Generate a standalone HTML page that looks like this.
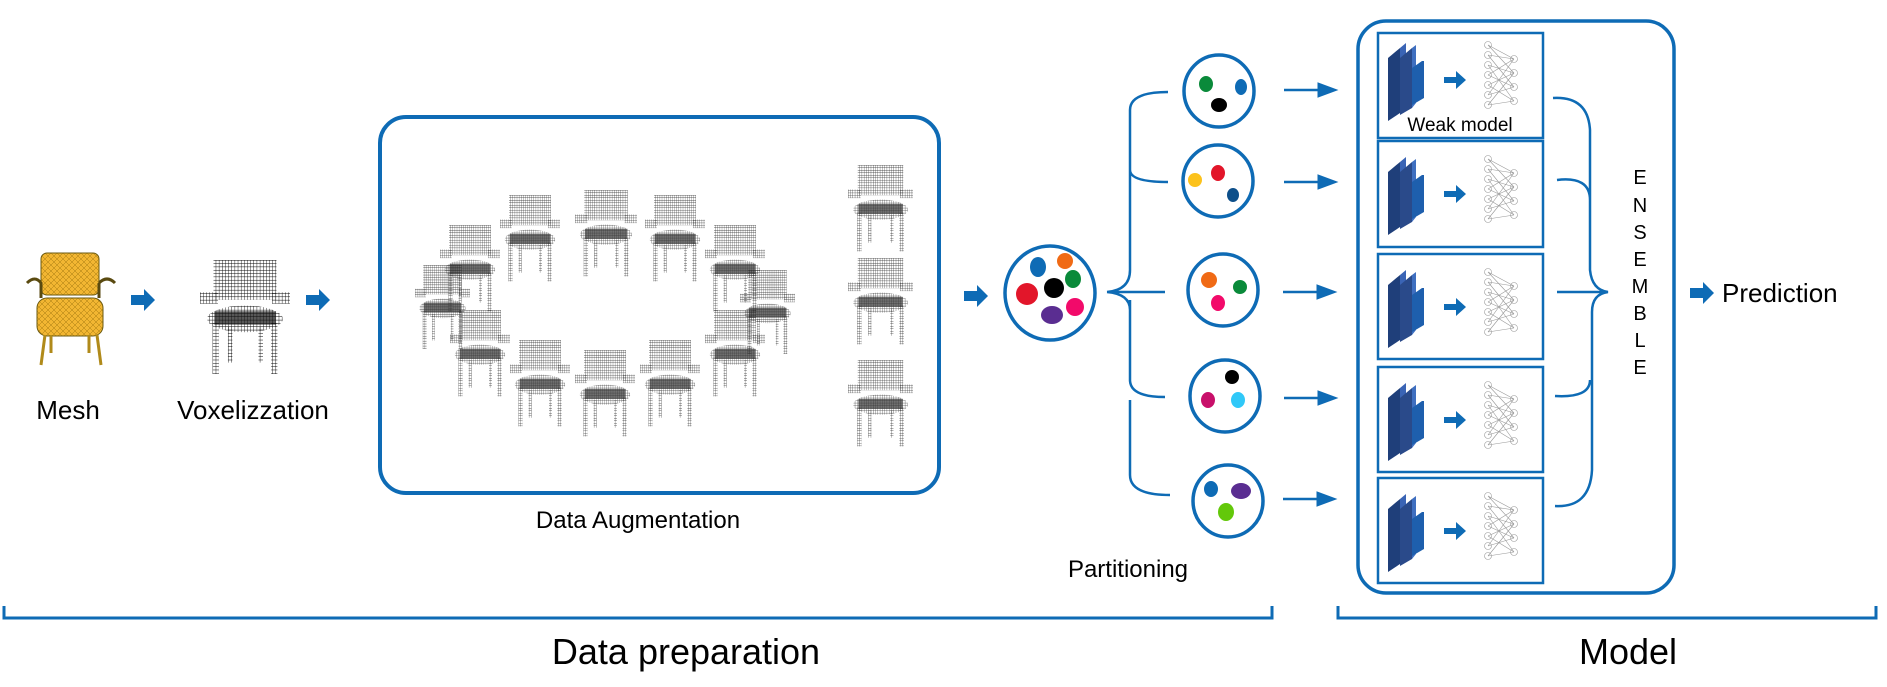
<!DOCTYPE html>
<html><head><meta charset="utf-8"><style>
html,body{margin:0;padding:0;background:#fff;}
svg{display:block;}
text{font-family:"Comic Sans MS","Liberation Sans",sans-serif;fill:#000;}
</style></head><body>
<svg width="1887" height="687" viewBox="0 0 1887 687" xmlns="http://www.w3.org/2000/svg">
<defs>
<pattern id="grid" width="3.5" height="3.5" patternUnits="userSpaceOnUse">
<path d="M0 0H3.5M0 0V3.5" stroke="#000" stroke-width="0.9" fill="none"/>
</pattern>
<pattern id="mesh" width="6" height="6" patternUnits="userSpaceOnUse">
<rect width="6" height="6" fill="#f2b632"/>
<path d="M0 0L6 6M0 6L6 0" stroke="#a77a10" stroke-width="0.5"/>
</pattern>
<g id="chair">
<rect x="15" y="0" width="70" height="42" fill="url(#grid)"/>
<rect x="0" y="34" width="20" height="12" fill="url(#grid)"/>
<rect x="80" y="34" width="20" height="12" fill="url(#grid)"/>
<ellipse cx="50" cy="62" rx="42" ry="14" fill="url(#grid)"/>
<rect x="16" y="54" width="68" height="14" fill="#111" opacity="0.7"/>
<rect x="14" y="66" width="7" height="54" fill="url(#grid)"/>
<rect x="79" y="66" width="7" height="54" fill="url(#grid)"/>
<rect x="31" y="70" width="5" height="38" fill="url(#grid)"/>
<rect x="65" y="70" width="5" height="38" fill="url(#grid)"/>
</g>
<g id="arrowS"><path d="M0 -5H13V-11L24 0L13 11V5H0Z" fill="#0e6bb5"/></g>
<g id="weak">
<polygon points="10,25 22,15 22,80 10,88" fill="#1f3f7a"/>
<polygon points="22,15 28,10 28,76 22,80" fill="#3a64b5"/>
<polygon points="22,25 34,15 34,75 22,82" fill="#2a4a8a"/>
<polygon points="34,15 38,12 38,70 34,75" fill="#3f6fc0"/>
<polygon points="34,35 44,28 46,28 46,65 34,72" fill="#1e5fad"/>
<path d="M66 44H78V38L88 47L78 56V50H66Z" fill="#0e6bb5"/>
<g stroke="#999" stroke-width="0.6" fill="none">
<path d="M110 12L136 26M110 12L136 40M110 22L136 26M110 22L136 54M110 32L136 40M110 32L136 68M110 42L136 26M110 42L136 54M110 52L136 40M110 52L136 68M110 62L136 54M110 62L136 26M110 72L136 68M110 72L136 40"/>
<circle cx="110" cy="12" r="3.5"/><circle cx="110" cy="22" r="3.5"/><circle cx="110" cy="32" r="3.5"/><circle cx="110" cy="42" r="3.5"/><circle cx="110" cy="52" r="3.5"/><circle cx="110" cy="62" r="3.5"/><circle cx="110" cy="72" r="3.5"/>
<circle cx="136" cy="26" r="3.5"/><circle cx="136" cy="40" r="3.5"/><circle cx="136" cy="54" r="3.5"/><circle cx="136" cy="68" r="3.5"/>
</g>
</g>
</defs>

<!-- Mesh chair -->
<g transform="translate(27,253)">
<rect x="14" y="0" width="58" height="42" rx="6" fill="url(#mesh)" stroke="#6b5a10" stroke-width="1"/>
<path d="M0 30Q8 22 14 30L14 45M72 30Q80 22 88 30M72 30V45" stroke="#5a4a10" stroke-width="3" fill="none"/>
<rect x="10" y="45" width="66" height="38" rx="10" fill="url(#mesh)" stroke="#6b5a10"/>
<path d="M18 82L14 112M70 82L74 112M24 82L24 100M62 82L62 100" stroke="#b08a1a" stroke-width="3"/>
</g>
<use href="#arrowS" x="131" y="300"/>
<g transform="translate(200,260) scale(0.9,0.95)"><use href="#chair"/></g>
<use href="#arrowS" x="306" y="300"/>
<text x="68" y="419" font-size="26" text-anchor="middle">Mesh</text>
<text x="253" y="419" font-size="26" text-anchor="middle">Voxelizzation</text>

<!-- Data augmentation box -->
<rect x="380" y="117" width="559" height="376" rx="26" fill="none" stroke="#0e6bb5" stroke-width="4"/>
<g opacity="0.85">
<g transform="translate(575,190) scale(0.62,0.72)"><use href="#chair"/></g>
<g transform="translate(500,195) scale(0.6,0.72)"><use href="#chair"/></g>
<g transform="translate(645,195) scale(0.6,0.72)"><use href="#chair"/></g>
<g transform="translate(440,225) scale(0.6,0.72)"><use href="#chair"/></g>
<g transform="translate(705,225) scale(0.6,0.72)"><use href="#chair"/></g>
<g transform="translate(415,265) scale(0.55,0.7)"><use href="#chair"/></g>
<g transform="translate(740,270) scale(0.55,0.7)"><use href="#chair"/></g>
<g transform="translate(450,310) scale(0.6,0.72)"><use href="#chair"/></g>
<g transform="translate(705,310) scale(0.6,0.72)"><use href="#chair"/></g>
<g transform="translate(510,340) scale(0.6,0.72)"><use href="#chair"/></g>
<g transform="translate(575,350) scale(0.6,0.72)"><use href="#chair"/></g>
<g transform="translate(640,340) scale(0.6,0.72)"><use href="#chair"/></g>
<g transform="translate(848,165) scale(0.65,0.72)"><use href="#chair"/></g>
<g transform="translate(848,258) scale(0.65,0.72)"><use href="#chair"/></g>
<g transform="translate(848,360) scale(0.65,0.72)"><use href="#chair"/></g>
</g>
<text x="638" y="528" font-size="24" text-anchor="middle">Data Augmentation</text>

<!-- Partitioning -->
<use href="#arrowS" x="964" y="296"/>
<ellipse cx="1050" cy="293" rx="45" ry="47" fill="none" stroke="#0e6bb5" stroke-width="3.5"/>
<ellipse cx="1038" cy="267" rx="8" ry="10" fill="#0e6bb5"/>
<ellipse cx="1065" cy="261" rx="8" ry="8" fill="#f06a15"/>
<ellipse cx="1073" cy="279" rx="8" ry="9" fill="#0a8a3a"/>
<ellipse cx="1054" cy="288" rx="10" ry="10" fill="#000"/>
<ellipse cx="1027" cy="294" rx="11" ry="11" fill="#e2162a"/>
<ellipse cx="1075" cy="307" rx="9" ry="9" fill="#f20a6a"/>
<ellipse cx="1052" cy="315" rx="11" ry="9" fill="#5a2d91"/>
<path d="M1107 292Q1130 290 1130 270V110Q1130 92 1168 92M1130 140V170Q1130 182 1168 182M1107 292H1165M1130 300V380Q1130 397 1165 397M1130 400V475Q1130 495 1170 495M1107 292Q1130 294 1130 310" fill="none" stroke="#0e6bb5" stroke-width="2.5"/>
<g fill="none" stroke="#0e6bb5" stroke-width="3.5">
<ellipse cx="1219" cy="91" rx="35" ry="36"/>
<ellipse cx="1218" cy="181" rx="35" ry="36"/>
<ellipse cx="1223" cy="290" rx="35" ry="36"/>
<ellipse cx="1225" cy="396" rx="35" ry="36"/>
<ellipse cx="1228" cy="501" rx="35" ry="36"/>
</g>
<ellipse cx="1206" cy="84" rx="7" ry="8" fill="#0a8a3a"/><ellipse cx="1241" cy="87" rx="6" ry="8" fill="#0e6bb5"/><ellipse cx="1219" cy="105" rx="8" ry="7" fill="#000"/>
<ellipse cx="1195" cy="180" rx="7" ry="7" fill="#fcc21b"/><ellipse cx="1218" cy="173" rx="7" ry="8" fill="#e2162a"/><ellipse cx="1233" cy="195" rx="6" ry="7" fill="#0d4f8a"/>
<ellipse cx="1209" cy="280" rx="8" ry="8" fill="#f06a15"/><ellipse cx="1240" cy="287" rx="7" ry="7" fill="#0a8a3a"/><ellipse cx="1218" cy="303" rx="7" ry="8" fill="#f20a6a"/>
<ellipse cx="1232" cy="377" rx="7" ry="7" fill="#000"/><ellipse cx="1208" cy="400" rx="7" ry="8" fill="#c8106a"/><ellipse cx="1238" cy="400" rx="7" ry="8" fill="#30c8f8"/>
<ellipse cx="1211" cy="489" rx="7" ry="8" fill="#0e6bb5"/><ellipse cx="1241" cy="491" rx="10" ry="8" fill="#5a2d91"/><ellipse cx="1226" cy="512" rx="8" ry="9" fill="#63c80a"/>
<text x="1128" y="577" font-size="24" text-anchor="middle">Partitioning</text>
<g fill="#0e6bb5" stroke="#0e6bb5">
<path d="M1284 90H1320" stroke-width="2.5"/><path d="M1318 83L1337 90L1318 97Z"/>
<path d="M1284 182H1320" stroke-width="2.5"/><path d="M1318 175L1337 182L1318 189Z"/>
<path d="M1283 292H1319" stroke-width="2.5"/><path d="M1317 285L1336 292L1317 299Z"/>
<path d="M1284 398H1320" stroke-width="2.5"/><path d="M1318 391L1337 398L1318 405Z"/>
<path d="M1283 499H1319" stroke-width="2.5"/><path d="M1317 492L1336 499L1317 506Z"/>
</g>

<!-- Model box -->
<rect x="1358" y="21" width="316" height="572" rx="28" fill="none" stroke="#0e6bb5" stroke-width="3.5"/>
<g fill="none" stroke="#0e6bb5" stroke-width="2.5">
<rect x="1378" y="33" width="165" height="105"/>
<rect x="1378" y="141" width="165" height="106"/>
<rect x="1378" y="254" width="165" height="105"/>
<rect x="1378" y="367" width="165" height="105"/>
<rect x="1378" y="478" width="165" height="105"/>
</g>
<use href="#weak" x="1378" y="33"/>
<use href="#weak" x="1378" y="147"/>
<use href="#weak" x="1378" y="260"/>
<use href="#weak" x="1378" y="373"/>
<use href="#weak" x="1378" y="484"/>
<text x="1460" y="131" font-size="19" text-anchor="middle">Weak model</text>
<path d="M1553 98Q1588 96 1590 130V270Q1592 290 1608 292Q1592 294 1592 312V470Q1590 508 1555 506M1557 180Q1590 176 1590 200M1557 292H1608M1555 396Q1590 398 1590 380" fill="none" stroke="#0e6bb5" stroke-width="2.5"/>
<g font-size="20" text-anchor="middle">
<text x="1640" y="184">E</text><text x="1640" y="212">N</text><text x="1640" y="239">S</text><text x="1640" y="266">E</text><text x="1640" y="293">M</text><text x="1640" y="320">B</text><text x="1640" y="347">L</text><text x="1640" y="374">E</text>
</g>
<use href="#arrowS" x="1690" y="293"/>
<text x="1722" y="302" font-size="26">Prediction</text>

<!-- bottom brackets -->
<path d="M4 606V618H1272V606" fill="none" stroke="#0e6bb5" stroke-width="3"/>
<path d="M1338 606V618H1876V606" fill="none" stroke="#0e6bb5" stroke-width="3"/>
<text x="686" y="664" font-size="36" text-anchor="middle">Data preparation</text>
<text x="1628" y="664" font-size="36" text-anchor="middle">Model</text>
</svg>
</body></html>
